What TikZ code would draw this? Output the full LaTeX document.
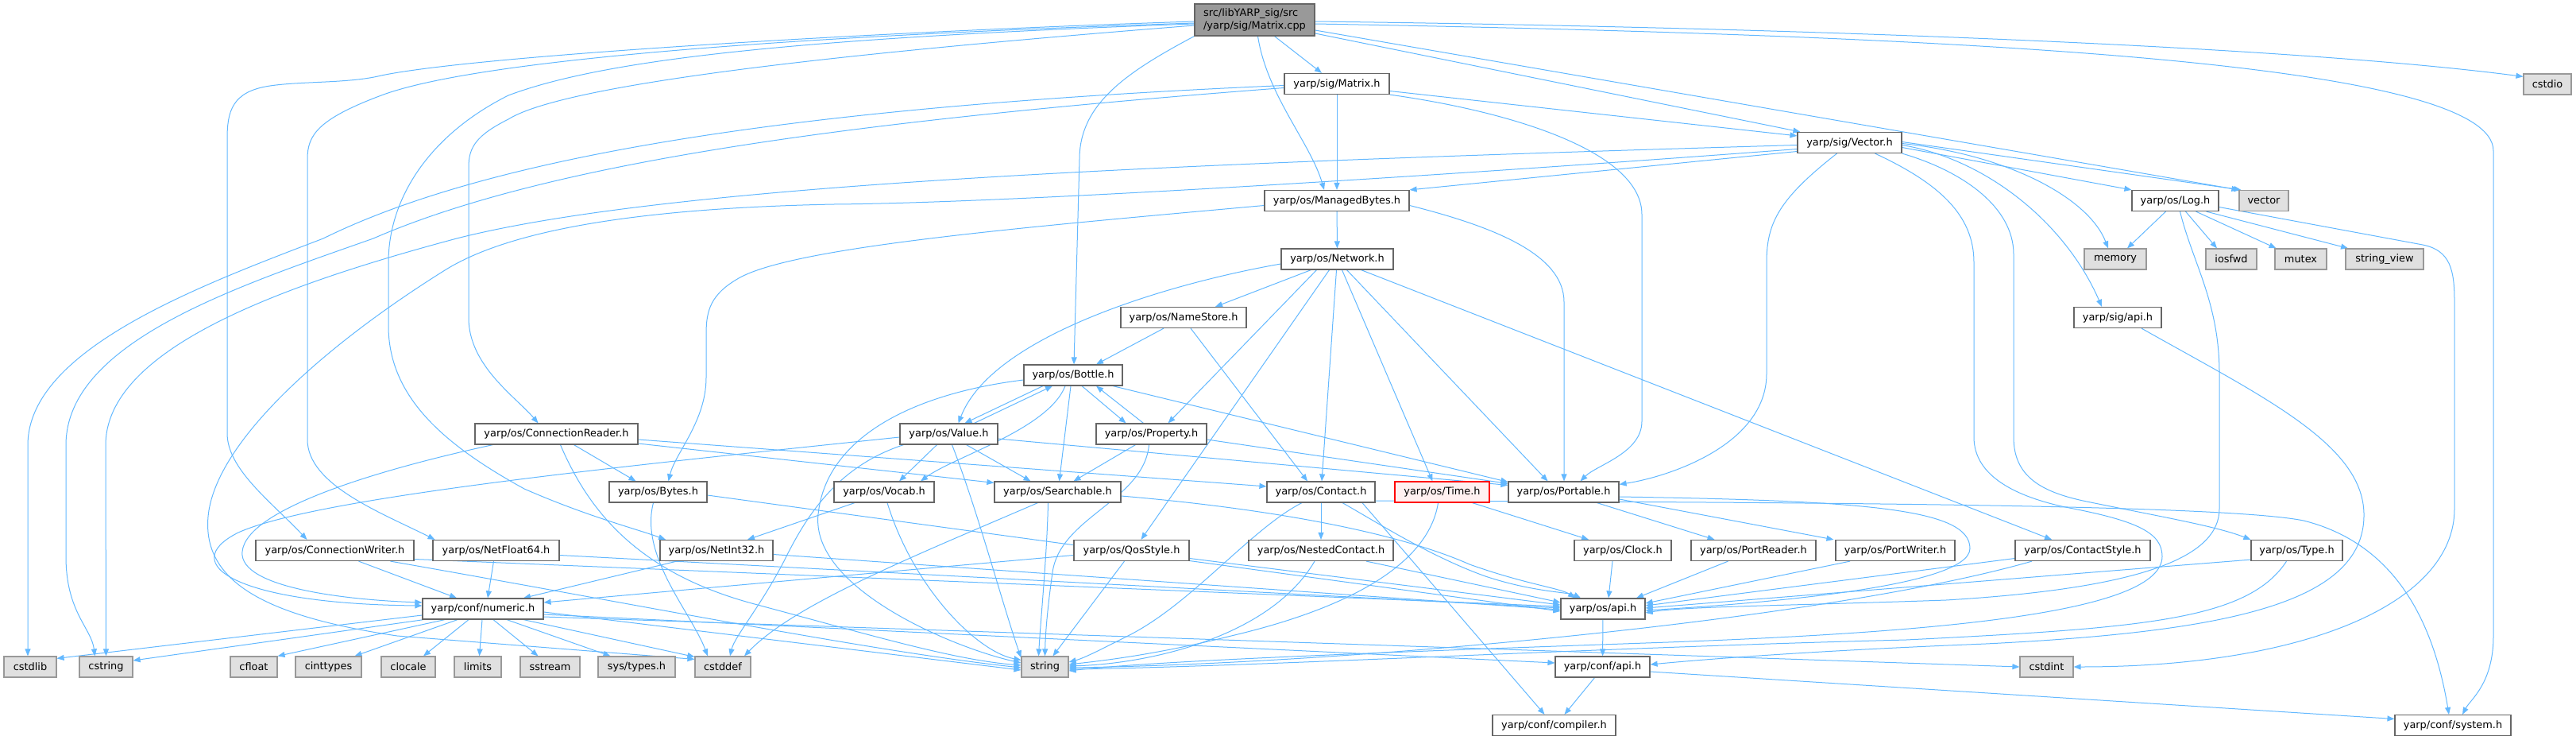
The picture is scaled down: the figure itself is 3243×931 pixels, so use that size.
\documentclass[tikz,border=0pt]{standalone}
\usepackage{fontspec}
\setmainfont{DejaVu Sans}
\usetikzlibrary{arrows.meta}
\definecolor{edgeblue}{HTML}{63B8FF}
\definecolor{boxborder}{HTML}{666666}
\definecolor{extborder}{HTML}{999999}
\definecolor{extfill}{HTML}{E0E0E0}
\definecolor{rootfill}{HTML}{999999}
\definecolor{timefill}{HTML}{FFF0F0}
\definecolor{timeborder}{HTML}{FF0000}
\pgfdeclarelayer{edgelayer}
\pgfsetlayers{edgelayer,main}
\begin{document}
\begin{tikzpicture}[x=1pt,y=-1pt,
  box/.style={draw=boxborder, fill=white, line width=1.2pt, minimum height=26pt, inner sep=0pt,
    font=\fontsize{12.9}{15.7}\selectfont, text=black},
  ext/.style={box, draw=extborder, fill=extfill},
  rootbox/.style={box, fill=rootfill, draw=boxborder},
  trunc/.style={box, fill=timefill, draw=timeborder},
  edge/.style={draw=edgeblue, line width=1pt, -{Triangle[length=9pt,width=7pt]}}]
\useasboundingbox (0,0) rectangle (3243,931);

% ---------------- nodes ----------------
\node[rootbox, minimum width=151pt, minimum height=40pt, align=left] (cpp) at (1579.5,25) {src/libYARP\_sig/src\\/yarp/sig/Matrix.cpp};
\node[box, minimum width=132pt] (matrixh) at (1683,105.5) {yarp/sig/Matrix.h};
\node[ext, minimum width=60pt] (cstdio) at (3207,106) {cstdio};
\node[box, minimum width=131pt] (vectorh) at (2328.5,179.5) {yarp/sig/Vector.h};
\node[box, minimum width=182pt] (mbytes) at (1683,252.5) {yarp/os/ManagedBytes.h};
\node[box, minimum width=109pt] (logh) at (2738.5,252.5) {yarp/os/Log.h};
\node[ext, minimum width=62pt] (vector) at (2850,252.5) {vector};
\node[box, minimum width=141pt] (network) at (1683.5,326) {yarp/os/Network.h};
\node[ext, minimum width=78pt] (memory) at (2663,326) {memory};
\node[ext, minimum width=64pt] (iosfwd) at (2809,326) {iosfwd};
\node[ext, minimum width=65pt] (mutex) at (2896.5,326) {mutex};
\node[ext, minimum width=98pt] (stringview) at (3002,326) {string\_view};
\node[box, minimum width=158pt] (namestore) at (1490,399.5) {yarp/os/NameStore.h};
\node[box, minimum width=110pt] (sigapi) at (2666,399.5) {yarp/sig/api.h};
\node[box, minimum width=124pt] (bottle) at (1351,472) {yarp/os/Bottle.h};
\node[box, minimum width=205pt] (connreader) at (700.5,546) {yarp/os/ConnectionReader.h};
\node[box, minimum width=123pt] (value) at (1194.5,546) {yarp/os/Value.h};
\node[box, minimum width=139pt] (property) at (1449.5,546) {yarp/os/Property.h};
\node[box, minimum width=123pt] (bytes) at (828.5,619) {yarp/os/Bytes.h};
\node[box, minimum width=126pt] (vocab) at (1113,619) {yarp/os/Vocab.h};
\node[box, minimum width=159pt] (searchable) at (1331.5,619) {yarp/os/Searchable.h};
\node[box, minimum width=136pt] (contact) at (1663,619) {yarp/os/Contact.h};
\node[trunc, minimum width=119pt] (timeh) at (1815.5,619) {yarp/os/Time.h};
\node[box, minimum width=139pt] (portable) at (1968.5,619) {yarp/os/Portable.h};
\node[box, minimum width=199pt] (connwriter) at (421.5,692.5) {yarp/os/ConnectionWriter.h};
\node[box, minimum width=159pt] (netfloat) at (624.5,692.5) {yarp/os/NetFloat64.h};
\node[box, minimum width=142pt] (netint) at (902,692.5) {yarp/os/NetInt32.h};
\node[box, minimum width=145pt] (qosstyle) at (1424.5,692.5) {yarp/os/QosStyle.h};
\node[box, minimum width=182pt] (nested) at (1663,692.5) {yarp/os/NestedContact.h};
\node[box, minimum width=122pt] (clock) at (2043,692.5) {yarp/os/Clock.h};
\node[box, minimum width=157pt] (portreader) at (2207.5,692.5) {yarp/os/PortReader.h};
\node[box, minimum width=150pt] (portwriter) at (2386,692.5) {yarp/os/PortWriter.h};
\node[box, minimum width=170pt] (contactstyle) at (2622,692.5) {yarp/os/ContactStyle.h};
\node[box, minimum width=115pt] (typeh) at (2891.5,692.5) {yarp/os/Type.h};
\node[box, minimum width=152pt] (numeric) at (608,766) {yarp/conf/numeric.h};
\node[box, minimum width=106pt] (osapi) at (2018,766) {yarp/os/api.h};
\node[ext, minimum width=66pt] (cstdlib) at (38,839) {cstdlib};
\node[ext, minimum width=67pt] (cstring) at (133.5,839) {cstring};
\node[ext, minimum width=59pt] (cfloat) at (319.5,839) {cfloat};
\node[ext, minimum width=83pt] (cinttypes) at (413.5,839) {cinttypes};
\node[ext, minimum width=68pt] (clocale) at (514,839) {clocale};
\node[ext, minimum width=59pt] (limits) at (601.5,839) {limits};
\node[ext, minimum width=75pt] (sstream) at (692.5,839) {sstream};
\node[ext, minimum width=97pt] (systypes) at (801.5,839) {sys/types.h};
\node[ext, minimum width=70pt] (cstddef) at (910,839) {cstddef};
\node[ext, minimum width=59pt] (nstring) at (1315.5,839) {string};
\node[box, minimum width=119pt] (confapi) at (2017.5,839) {yarp/conf/api.h};
\node[ext, minimum width=67pt] (cstdint) at (2576.5,839) {cstdint};
\node[box, minimum width=155pt] (compiler) at (1956.5,912.5) {yarp/conf/compiler.h};
\node[box, minimum width=146pt] (system) at (3088,912.5) {yarp/conf/system.h};

% ---------------- edges ----------------
\begin{pgfonlayer}{edgelayer}
% Matrix.cpp
\draw[edge] ([xshift=25pt]cpp.south) -- ([xshift=-19pt]matrixh.north);
\draw[edge] ([xshift=4pt]cpp.south) .. controls (1595,120) and (1650,180) .. ([xshift=-16pt]mbytes.north);
\draw[edge] (cpp.south west) .. controls (1420,90) and (1359,130) .. (1359,200) -- ([xshift=1pt]bottle.north);
\draw[edge] ([yshift=-2pt]cpp.west) .. controls (1100,40) and (600,70) .. (480,95) .. controls (440,105) and (380,102) .. (340,108) .. controls (292,115) and (286,140) .. (286,175) -- (286,545) .. controls (286,590) and (340,630) .. ([xshift=-35pt]connwriter.north);
\draw[edge] ([yshift=-4pt]cpp.west) .. controls (1000,45) and (600,75) .. (480,120) .. controls (400,150) and (387,170) .. (387,200) -- (387,553) .. controls (387,610) and (480,645) .. ([xshift=-77pt]netfloat.north);
\draw[edge] ([yshift=-5pt]cpp.west) .. controls (1000,48) and (760,75) .. (640,120) .. controls (540,170) and (489,250) .. (489,330) -- (489,410) .. controls (489,500) and (560,560) .. (660,615) .. controls (740,650) and (800,665) .. ([xshift=-64pt]netint.north);
\draw[edge] ([yshift=-7pt]cpp.west) .. controls (1150,60) and (720,100) .. (640,150) .. controls (600,170) and (590,185) .. (590,210) -- (590,400) .. controls (590,460) and (650,500) .. ([xshift=-23pt]connreader.north);
\draw[edge] ([yshift=-17pt]cpp.east) -- ([xshift=4pt]vectorh.north west);
\draw[edge] ([yshift=-13pt]cpp.east) -- (vector.north west);
\draw[edge] ([yshift=-2pt]cpp.east) .. controls (2300,35) and (2900,60) .. ([yshift=-4pt]cstdio.north west);
\draw[edge] ([yshift=-5pt]cpp.east) .. controls (2500,45) and (3139,80) .. (3139,190) -- (3139,800) .. controls (3139,860) and (3110,880) .. ([xshift=12pt]system.north);
% Matrix.h
\draw[edge] (matrixh) -- (mbytes);
\draw[edge] ([yshift=-9pt]matrixh.east) -- ([yshift=-5pt]vectorh.north west);
\draw[edge] (matrixh.south east) .. controls (1900,140) and (2067,190) .. (2067,270) -- (2067,530) .. controls (2067,570) and (2010,585) .. ([xshift=21pt]portable.north);
\draw[edge] ([yshift=-2pt]matrixh.west) .. controls (1100,130) and (650,180) .. (407,300) .. controls (250,360) and (35,440) .. (35,560) -- ([xshift=-3pt]cstdlib.north);
\draw[edge] ([yshift=-5pt]matrixh.west) .. controls (1100,150) and (700,200) .. (470,300) .. controls (300,360) and (83,430) .. (83,560) -- (83,700) .. controls (83,770) and (115,790) .. ([xshift=-14pt]cstring.north);
% Vector.h
\draw[edge] ([yshift=-3pt]vectorh.west) .. controls (1500,205) and (850,230) .. (575,300) .. controls (350,360) and (133,440) .. (133,560) -- (cstring.north);
\draw[edge] ([yshift=-8pt]vectorh.west) .. controls (1900,215) and (1300,255) .. (1050,257) .. controls (800,262) and (640,290) .. (560,340) .. controls (400,440) and (270,560) .. (262,650) .. controls (255,730) and (330,775) .. (500,800) -- ([yshift=-4pt]cstddef.north west);
\draw[edge] ([yshift=-11pt]vectorh.west) -- (mbytes.north east);
\draw[edge] ([xshift=-16pt]vectorh.south) .. controls (2240,250) and (2224,280) .. (2224,330) -- (2224,470) .. controls (2224,560) and (2100,600) .. ([yshift=-4pt]portable.north east);
\draw[edge] ([xshift=32pt]vectorh.south) .. controls (2440,230) and (2485,270) .. (2485,330) -- (2485,550) .. controls (2485,600) and (2540,625) .. (2600,638) .. controls (2690,655) and (2722,670) .. (2722,700) .. controls (2722,770) and (2450,795) .. (2100,808) .. controls (1700,822) and (1450,832) .. ([yshift=-5pt]nstring.east);
\draw[edge] (vectorh.south east) .. controls (2470,215) and (2535,260) .. (2535,320) -- (2535,550) .. controls (2535,600) and (2570,620) .. (2632,632) .. controls (2720,650) and (2790,662) .. (typeh.north west);
\draw[edge] ([yshift=-3pt]vectorh.east) .. controls (2500,200) and (2600,280) .. ([xshift=-20pt]sigapi.north);
\draw[edge] ([yshift=-1pt]vectorh.east) .. controls (2530,195) and (2630,250) .. ([xshift=-9pt]memory.north);
\draw[edge] ([yshift=-6pt]vectorh.east) -- (logh.north west);
\draw[edge] ([yshift=1pt]vectorh.east) -- ([xshift=3pt]vector.north west);
% ManagedBytes.h
\draw[edge] (mbytes) -- (network);
\draw[edge] ([yshift=-6pt]mbytes.west) .. controls (1300,285) and (1000,310) .. (930,350) .. controls (895,370) and (889,390) .. (889,420) -- (889,475) .. controls (889,530) and (850,570) .. ([xshift=13pt]bytes.north);
\draw[edge] ([yshift=-6pt]mbytes.east) .. controls (1880,285) and (1969,320) .. (1969,380) -- ([xshift=0.5pt]portable.north);
% Network.h
\draw[edge] ([yshift=-6pt]network.west) .. controls (1480,355) and (1250,420) .. ([xshift=12pt]value.north);
\draw[edge] ([xshift=-33pt]network.south) -- ([xshift=40pt]namestore.north);
\draw[edge] ([xshift=-26pt]network.south) -- ([xshift=21pt]property.north);
\draw[edge] ([xshift=-10pt]network.south) -- ([xshift=12pt]qosstyle.north);
\draw[edge] ([xshift=-1pt]network.south) -- ([xshift=1pt]contact.north);
\draw[edge] ([xshift=6pt]network.south) -- ([xshift=-12pt]timeh.north);
\draw[edge] ([xshift=12pt]network.south) -- ([xshift=-20pt]portable.north);
\draw[edge] ([xshift=30pt]network.south) -- ([xshift=-39pt]contactstyle.north);
% NameStore.h
\draw[edge] ([xshift=-25pt]namestore.south) -- ([xshift=29pt]bottle.north);
\draw[edge] ([xshift=9pt]namestore.south) -- ([xshift=-17pt]contact.north);
% Bottle.h
\draw[edge] ([xshift=-38pt]bottle.south) -- ([xshift=20pt]value.north);
\draw[edge] ([xshift=32pt]value.north) -- ([xshift=-26pt]bottle.south);
\draw[edge] ([xshift=11pt]bottle.south) -- ([xshift=-32pt]property.north);
\draw[edge] ([xshift=-10pt]property.north) -- ([xshift=29pt]bottle.south);
\draw[edge] ([xshift=-10pt]bottle.south) .. controls (1320,540) and (1200,575) .. ([xshift=46pt]vocab.north);
\draw[edge] ([xshift=-3pt]bottle.south) -- ([xshift=2pt]searchable.north);
\draw[edge] ([xshift=50pt]bottle.south) -- ([yshift=-1pt]portable.north west);
\draw[edge] ([yshift=-6pt]bottle.west) .. controls (1150,495) and (1040,550) .. (1030,647) .. controls (1020,740) and (1200,815) .. ([yshift=5pt]nstring.west);
% Property.h
\draw[edge] ([xshift=-20pt]property.south) -- ([xshift=20pt]searchable.north);
\draw[edge] ([yshift=-7pt]property.east) -- ([yshift=-3pt]portable.north west);
\draw[edge] ([xshift=-3pt]property.south) .. controls (1440,630) and (1335,650) .. (1325,720) .. controls (1318,770) and (1316,800) .. (nstring.north);
% Value.h
\draw[edge] ([xshift=-15pt]value.south) -- ([xshift=19pt]vocab.north);
\draw[edge] ([xshift=22pt]value.south) -- ([xshift=-34pt]searchable.north);
\draw[edge] ([xshift=4pt]value.south) .. controls (1230,640) and (1262,760) .. ([yshift=-2pt]nstring.north west);
\draw[edge] ([yshift=-6pt]value.east) -- ([yshift=-5pt]portable.north west);
\draw[edge] ([yshift=-4pt]value.west) .. controls (800,585) and (400,625) .. (300,670) .. controls (220,710) and (300,760) .. ([yshift=4pt]numeric.west);
\draw[edge] ([xshift=-57pt]value.south) .. controls (1060,585) and (1020,640) .. (990,700) .. controls (960,760) and (925,800) .. ([xshift=9pt]cstddef.north);
% ConnectionReader.h
\draw[edge] ([xshift=22pt]connreader.south) -- ([xshift=-28pt]bytes.north);
\draw[edge] ([xshift=-80pt]connreader.south) .. controls (480,590) and (310,640) .. (305,694) .. controls (300,740) and (440,755) .. ([yshift=8pt]numeric.west);
\draw[edge] ([xshift=5pt]connreader.south) .. controls (740,640) and (800,720) .. (950,760) .. controls (1100,800) and (1200,830) .. ([yshift=2pt]nstring.west);
\draw[edge] ([yshift=-7pt]connreader.east) -- ([yshift=7pt]contact.west);
\draw[edge] ([yshift=-12pt]connreader.east) -- ([yshift=-2pt]searchable.north west);
% ConnectionWriter.h
\draw[edge] ([xshift=30pt]connwriter.south) -- ([xshift=-33pt]numeric.north);
\draw[edge] ([yshift=-11pt]connwriter.east) -- ([yshift=3pt]osapi.west);
\draw[edge] ([xshift=70pt]connwriter.south) .. controls (800,760) and (1100,820) .. ([yshift=-1pt]nstring.west);
% NetFloat64.h, NetInt32.h
\draw[edge] ([xshift=-3pt]netfloat.south) -- ([xshift=6pt]numeric.north);
\draw[edge] ([yshift=-6pt]netfloat.east) -- ([yshift=1pt]osapi.west);
\draw[edge] ([xshift=-50pt]netint.south) -- ([xshift=51pt]numeric.north);
\draw[edge] ([yshift=-5pt]netint.east) -- ([yshift=-1pt]osapi.west);
% Bytes.h
\draw[edge] ([yshift=-4pt]bytes.east) -- ([yshift=-3pt]osapi.west);
\draw[edge] ([xshift=-6pt]bytes.south) .. controls (805,700) and (870,770) .. ([xshift=-19pt]cstddef.north);
% Vocab.h
\draw[edge] ([xshift=-37pt]vocab.south) -- ([xshift=39pt]netint.north);
\draw[edge] ([xshift=4pt]vocab.south) .. controls (1150,740) and (1230,820) .. ([yshift=-5pt]nstring.north west);
% Searchable.h
\draw[edge] ([yshift=-5pt]searchable.east) .. controls (1600,640) and (1760,670) .. (1850,710) .. controls (1920,735) and (1965,740) .. ([xshift=-35pt]osapi.north);
\draw[edge] ([xshift=-12pt]searchable.south) .. controls (1318,700) and (1310,780) .. ([xshift=-8pt]nstring.north);
\draw[edge] ([xshift=-25pt]searchable.south) .. controls (1150,700) and (1000,760) .. ([xshift=27pt]cstddef.north);
% Contact.h
\draw[edge] (contact) -- (nested);
\draw[edge] ([xshift=-24pt]contact.south) .. controls (1575,665) and (1500,760) .. (1420,800) .. controls (1390,815) and (1365,828) .. ([yshift=6pt]nstring.east);
\draw[edge] ([xshift=27pt]contact.south) .. controls (1730,655) and (1800,700) .. (1870,725) .. controls (1930,745) and (1975,745) .. ([xshift=-28pt]osapi.north);
\draw[edge] ([xshift=52pt]contact.south) -- ([xshift=-12pt]compiler.north);
\draw[edge] ([yshift=-11pt]contact.east) .. controls (2300,632) and (2800,635) .. (2900,655) .. controls (3000,680) and (3060,760) .. ([xshift=-5pt]system.north);
% Time.h
\draw[edge] ([xshift=38pt]timeh.south) -- ([xshift=-43pt]clock.north);
\draw[edge] ([xshift=-5pt]timeh.south) .. controls (1800,700) and (1720,760) .. (1550,800) .. controls (1450,825) and (1380,832) .. ([yshift=3pt]nstring.east);
% Portable.h
\draw[edge] ([xshift=42pt]portable.south) -- ([xshift=-49pt]portreader.north);
\draw[edge] ([yshift=-9pt]portable.east) -- ([xshift=-2pt]portwriter.north west);
\draw[edge] ([yshift=-6pt]portable.east) .. controls (2350,630) and (2480,640) .. (2480,690) .. controls (2480,740) and (2200,760) .. ([yshift=-2pt]osapi.east);
% QosStyle.h, NestedContact.h
\draw[edge] ([yshift=-10pt]qosstyle.east) -- ([yshift=5pt]osapi.west);
\draw[edge] ([xshift=-9pt]qosstyle.south) -- ([xshift=10pt]nstring.north);
\draw[edge] ([yshift=-6pt]qosstyle.west) -- ([yshift=8pt]numeric.east);
\draw[edge] ([xshift=57pt]nested.south) -- ([yshift=8pt]osapi.west);
\draw[edge] ([xshift=-8pt]nested.south) .. controls (1600,800) and (1450,835) .. ([yshift=1pt]nstring.east);
% Clock, PortReader, PortWriter, ContactStyle, Type
\draw[edge] ([xshift=-13pt]clock.south) -- ([xshift=7pt]osapi.north);
\draw[edge] ([xshift=-32pt]portreader.south) -- ([xshift=42pt]osapi.north);
\draw[edge] ([xshift=-57pt]portwriter.south) -- ([yshift=7pt]osapi.east);
\draw[edge] ([yshift=-10pt]contactstyle.west) -- ([yshift=4pt]osapi.east);
\draw[edge] ([xshift=-64pt]contactstyle.south) .. controls (2300,780) and (1700,835) .. ([yshift=-1pt]nstring.east);
\draw[edge] ([yshift=2pt]typeh.south west) -- ([yshift=1pt]osapi.east);
\draw[edge] ([xshift=-13pt]typeh.south) .. controls (2830,780) and (2700,790) .. (2400,805) .. controls (2000,815) and (1600,838) .. ([yshift=-3pt]nstring.east);
% Log.h
\draw[edge] ([xshift=6pt]logh.south) .. controls (2760,330) and (2794,380) .. (2794,470) -- (2794,640) .. controls (2794,700) and (2700,740) .. (2450,755) .. controls (2250,762) and (2120,763) .. ([yshift=-5pt]osapi.east);
\draw[edge] ([xshift=-12pt]logh.south) -- ([xshift=15pt]memory.north);
\draw[edge] ([xshift=13pt]logh.south) -- ([xshift=-18pt]iosfwd.north);
\draw[edge] ([xshift=26pt]logh.south) -- ([xshift=-31pt]mutex.north);
\draw[edge] ([xshift=39pt]logh.south) -- ([xshift=-46pt]stringview.north);
\draw[edge] ([yshift=-8pt]logh.east) -- (3050,308) .. controls (3085,315) and (3090,340) .. (3090,380) -- (3090,640) .. controls (3090,760) and (2900,839) .. (cstdint.east);
% sig/api.h, os/api.h, conf/api.h
\draw[edge] ([xshift=30pt]sigapi.south) .. controls (2850,500) and (2978,560) .. (2976,650) .. controls (2974,760) and (2800,795) .. (2500,810) .. controls (2250,820) and (2120,832) .. ([yshift=3pt]confapi.east);
\draw[edge] (osapi) -- (confapi);
\draw[edge] ([xshift=-10pt]confapi.south) -- ([xshift=13pt]compiler.north);
\draw[edge] ([yshift=-6pt]confapi.east) -- ([yshift=8pt]system.west);
% numeric.h
\draw[edge] ([yshift=-8pt]numeric.west) -- ([yshift=-3pt]cstdlib.north east);
\draw[edge] ([xshift=2pt]numeric.south west) -- ([yshift=8pt]cstring.east);
\draw[edge] ([xshift=-48pt]numeric.south) -- (cfloat.north east);
\draw[edge] ([xshift=-32pt]numeric.south) -- ([xshift=33pt]cinttypes.north);
\draw[edge] ([xshift=-18pt]numeric.south) -- ([xshift=19pt]clocale.north);
\draw[edge] ([xshift=-1pt]numeric.south) -- ([xshift=2pt]limits.north);
\draw[edge] ([xshift=13pt]numeric.south) -- ([xshift=-15pt]sstream.north);
\draw[edge] ([xshift=30pt]numeric.south) -- ([xshift=-33pt]systypes.north);
\draw[edge] ([xshift=51pt]numeric.south) -- ([yshift=-1pt]cstddef.north west);
\draw[edge] ([yshift=-4pt]numeric.east) -- ([yshift=-4pt]nstring.west);
\draw[edge] ([yshift=-7pt]numeric.east) -- ([yshift=5pt]confapi.west);
\draw[edge] ([yshift=-10pt]numeric.east) -- (cstdint.west);
\end{pgfonlayer}
\end{tikzpicture}
\end{document}
